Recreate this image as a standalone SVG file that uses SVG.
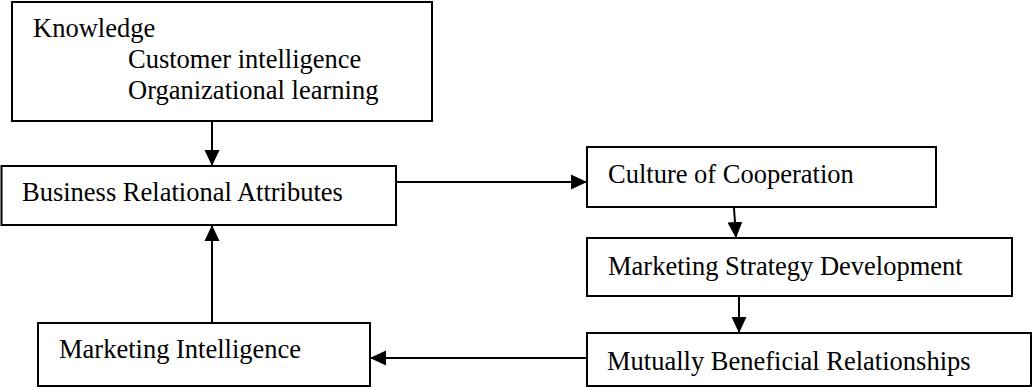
<svg xmlns="http://www.w3.org/2000/svg" width="1032" height="387" viewBox="0 0 1032 387">
<style>
.box{fill:#fff;stroke:#000;stroke-width:2}
.lbl{font-family:"Liberation Serif","Times New Roman",serif;font-size:26.5px;fill:#000}
.edge{stroke:#000;stroke-width:2;fill:none;marker-end:url(#ah)}
</style>
<defs>
<marker id="ah" markerUnits="userSpaceOnUse" markerWidth="16" markerHeight="16" viewBox="0 0 16 16" refX="16" refY="8" orient="auto">
<path d="M0,0.5 L16,8 L0,15.5 z" fill="#000"/>
</marker>
</defs>
<rect width="1032" height="387" fill="#fff"/>
<g id="knowledge">
<rect class="box" x="12" y="2" width="420" height="119"/>
<text class="lbl" x="33" y="37">Knowledge</text>
<text class="lbl" x="128" y="68">Customer intelligence</text>
<text class="lbl" x="128" y="99">Organizational learning</text>
</g>
<g id="business-relational-attributes">
<rect class="box" x="1.5" y="166" width="394.5" height="59"/>
<text class="lbl" x="22" y="201">Business Relational Attributes</text>
</g>
<g id="culture-of-cooperation">
<rect class="box" x="587" y="147" width="349" height="60"/>
<text class="lbl" x="608" y="183">Culture of Cooperation</text>
</g>
<g id="marketing-strategy-development">
<rect class="box" x="587" y="238" width="425" height="58"/>
<text class="lbl" x="608" y="275">Marketing Strategy Development</text>
</g>
<g id="mutually-beneficial-relationships">
<rect class="box" x="587" y="333" width="444" height="53"/>
<text class="lbl" x="607" y="370">Mutually Beneficial Relationships</text>
</g>
<g id="marketing-intelligence">
<rect class="box" x="38" y="323" width="332" height="63"/>
<text class="lbl" x="59" y="358">Marketing Intelligence</text>
</g>
<g id="connectors">
<line class="edge" x1="212" y1="122" x2="212" y2="166"/>
<line class="edge" x1="397" y1="182" x2="587" y2="182"/>
<line class="edge" x1="734" y1="208" x2="736" y2="238"/>
<line class="edge" x1="739" y1="297" x2="739" y2="333"/>
<line class="edge" x1="586" y1="358" x2="370" y2="358"/>
<line class="edge" x1="212" y1="322" x2="212" y2="225"/>
</g>
</svg>
